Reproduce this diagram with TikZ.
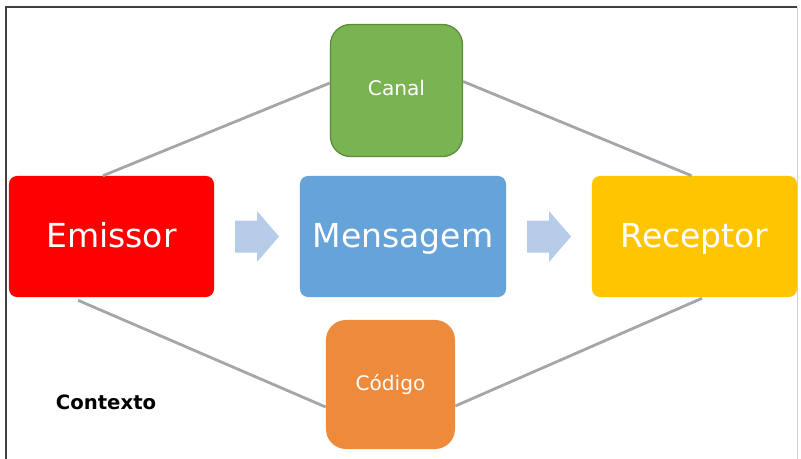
\documentclass[tikz,border=0pt]{standalone}
\usepackage{fontspec}
\setmainfont{DejaVu Sans}
\usepackage{tikz}
\usetikzlibrary{calc}
\definecolor{emred}{HTML}{FF0000}
\definecolor{msgblue}{HTML}{66A3D9}
\definecolor{recyellow}{HTML}{FFC600}
\definecolor{chgreen}{HTML}{7AB452}
\definecolor{chedge}{HTML}{5A8C3A}
\definecolor{codorange}{HTML}{EE8A3B}
\definecolor{flowblue}{HTML}{B7CCE8}
\definecolor{linkgray}{HTML}{A6A6A6}
\definecolor{framedark}{HTML}{404040}
\definecolor{framelight}{HTML}{D0D0D0}
\tikzset{
  bigbox/.style={rectangle, rounded corners=0.2cm, minimum width=5.125cm, minimum height=3.025cm,
    inner sep=0pt, text=white, font=\fontsize{23.5}{27}\selectfont,
    text height=17.1pt, text depth=1pt},
  smallbox/.style={rectangle, rounded corners=0.5cm, inner sep=0pt, text=white,
    font=\fontsize{14.3}{17}\selectfont, text height=10.4pt, text depth=3.6pt},
  link/.style={draw=linkgray, line width=2pt},
  flow/.style={fill=flowblue},
  lab/.style={font=\bfseries\fontsize{14}{17}\selectfont},
}

\begin{document}
\begin{tikzpicture}[x=0.025cm, y=-0.025cm]
  \useasboundingbox (0,0) rectangle (801,459);
  \draw[framedark, line width=1.4pt] (6,459) -- (6,7) -- (797,7);
  \draw[framelight, line width=0.6pt] (797,7) -- (797,459);

  \node[bigbox, fill=emred] (emissor) at (111.5,236.5) {Emissor};
  \node[bigbox, fill=msgblue, minimum width=5.15cm] (mensagem) at (403,236.5) {Mensagem};
  \node[bigbox, fill=recyellow] (receptor) at (694.5,236.5) {Receptor};
  \node[smallbox, fill=chgreen, draw=chedge, line width=0.9pt, minimum size=3.3cm] (canal) at (396.5,90.5) {Canal};
  \node[smallbox, fill=codorange, minimum size=3.225cm, text depth=2pt] (codigo) at (390.5,384.5) {Código};

  \draw[link] ($(emissor.north)+(-8.5,0)$) -- ($(canal.west)+(0,-7.5)$);
  \draw[link] ($(canal.east)+(0,-9)$) -- ($(receptor.north)+(-3,0)$);
  \draw[link] ($(emissor.south)+(-33.5,3)$) -- ($(codigo.west)+(0,22.5)$);
  \draw[link] ($(codigo.east)+(0,21.5)$) -- ($(receptor.south)+(7.5,1)$);

  % block arrows between the boxes
  \foreach \a/\b in {emissor/mensagem, mensagem/receptor}
    \fill[flow] ($(\a.east)!0.5!(\b.west)$) ++(-22,-16) -- ++(22,0) -- ++(0,-9.5)
      -- ++(22,25.5) -- ++(-22,25.5) -- ++(0,-9.5) -- ++(-22,0) -- cycle;

  \node[lab] (contexto) at (106,402) {Contexto};
\end{tikzpicture}
\end{document}
